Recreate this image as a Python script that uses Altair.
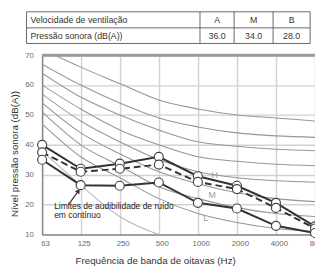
import altair as alt
import pandas as pd

# ---------------- data ----------------
freqs = [63, 125, 250, 500, 1000, 2000, 4000, 8000]
level_A = [40, 32, 33.7, 36, 29.5, 26.3, 20.6, 12.7]
level_M = [37.5, 31, 32, 33.4, 27.6, 25.2, 18.9, 12]
level_B = [35, 26.5, 26.3, 27.4, 20.6, 18.7, 12.9, 10.5]

nc_names = ["NC-15", "NC-20", "NC-25", "NC-30", "NC-35", "NC-40", "NC-45", "NC-50"]
nc_values = [
    [47, 36, 29, 22, 17, 14, 12, 11],
    [51, 40, 33, 26, 22, 19, 17, 16],
    [54, 44, 37, 31, 27, 24, 22, 21],
    [57, 48, 41, 35, 31, 29, 28, 27.5],
    [60, 52, 45, 40, 36, 34.5, 33.5, 33],
    [64, 56, 50, 45, 41, 39.5, 38.5, 38],
    [67, 60, 54, 49, 46, 44, 43, 42.5],
    [72, 66, 60.5, 55, 52, 50, 49, 48],
]
threshold_freqs = [63, 125, 250, 500, 1000]
threshold_values = [38, 26.5, 16, 10, 7]

curve_labels = ["H", "M", "L"]
curve_label_freq = [1350, 1290, 1150]
curve_label_db = [30, 23.2, 15.4]

note_lines = ["Limites de audibilidade de ruído", "em contínuo"]
note_freq = 78
note_db = [19.6, 16.4]
arrow_start = (100, 19.8)
arrow_end = (120, 24.6)

table_header = ["Velocidade de ventilação", "A", "M", "B"]
table_row = ["Pressão sonora (dB(A))", "36.0", "34.0", "28.0"]

# ---------------- layout (pixels, relative to the plot area) ----------------
W, H = 280, 184
FONT = "Liberation Sans"
col_edges = [-16, 162, 197, 237, 275]
row_edges = [-44.5, -28, -12]

xs = alt.Scale(type="log", domain=[63, 8000], nice=False)
ys = alt.Scale(domain=[10, 70], nice=False, zero=False)

nc_df = pd.DataFrame(
    [{"curve": n, "f": f, "db": v} for n, vals in zip(nc_names, nc_values) for f, v in zip(freqs, vals)]
)
thr_df = pd.DataFrame({"f": threshold_freqs, "db": threshold_values})
data_df = pd.concat([
    pd.DataFrame({"series": "A", "f": freqs, "db": level_A}),
    pd.DataFrame({"series": "M", "f": freqs, "db": level_M}),
    pd.DataFrame({"series": "B", "f": freqs, "db": level_B}),
])

x_axis = alt.Axis(values=freqs, format="d", labelFontSize=8, labelColor="#6a6a6a", labelFont=FONT,
                  labelOverlap=False, labelFlush=False,
                  grid=True, gridColor="#d2d2d2", gridWidth=1.5, domainColor="#8a8a8a", domainWidth=1.5,
                  ticks=False, labelPadding=5, labelOffset=3,
                  title="Frequência de banda de oitavas (Hz)", titleFont=FONT, titleFontSize=10,
                  titleFontWeight="normal", titleColor="#333", titleX=116, titleY=30,
                  titleBaseline="alphabetic")
y_axis = alt.Axis(values=[10, 20, 30, 40, 50, 60, 70], labelFontSize=8, labelColor="#6a6a6a", labelFont=FONT,
                  labelOverlap=False, labelFlush=False,
                  grid=True, gridColor="#d2d2d2", gridWidth=1.5, domainColor="#8a8a8a", domainWidth=1.5,
                  ticks=False, labelPadding=9,
                  title="Nível pressão sonora (dB(A))", titleFont=FONT, titleFontSize=10,
                  titleFontWeight="normal", titleColor="#333", titleX=-28, titleY=101,
                  titleBaseline="middle")

X = lambda field: alt.X(field, scale=xs, axis=x_axis)
Y = lambda field: alt.Y(field, scale=ys, axis=y_axis)

nc_lines = alt.Chart(nc_df).mark_line(color="#969696", strokeWidth=1.1, interpolate="monotone", clip=True).encode(
    x=X("f:Q"), y=Y("db:Q"), detail="curve:N"
)
thr_line = alt.Chart(thr_df).mark_line(color="#b8b8b8", strokeWidth=1.1, interpolate="monotone", clip=True).encode(
    x=X("f:Q"), y=Y("db:Q")
)
top_border = alt.Chart(pd.DataFrame({"db": [70]})).mark_rule(color="#9a9a9a", strokeWidth=3).encode(
    y=Y("db:Q")
)
solid = alt.Chart(data_df[data_df.series != "M"]).mark_line(color="#333", strokeWidth=2).encode(
    x=X("f:Q"), y=Y("db:Q"), detail="series:N"
)
dashed = alt.Chart(data_df[data_df.series == "M"]).mark_line(color="#333", strokeWidth=2, strokeDash=[7, 4]).encode(
    x=X("f:Q"), y=Y("db:Q")
)
markers = alt.Chart(data_df).mark_point(shape="circle", filled=True, fill="white", stroke="#444",
                                        strokeWidth=1.2, size=85, opacity=1).encode(
    x=X("f:Q"), y=Y("db:Q")
)
lbl_df = pd.DataFrame({"t": curve_labels, "f": curve_label_freq, "db": curve_label_db})
curve_text = alt.Chart(lbl_df).mark_text(font=FONT, fontSize=9, color="#9a9a9a").encode(
    x=X("f:Q"), y=Y("db:Q"), text="t:N"
)
note_df = pd.DataFrame({"t": note_lines, "f": [note_freq] * 2, "db": note_db})
note_text = alt.Chart(note_df).mark_text(font=FONT, fontSize=8.7, color="#222", align="left").encode(
    x=X("f:Q"), y=Y("db:Q"), text="t:N"
)
arrow_df = pd.DataFrame({"f": [arrow_start[0]], "db": [arrow_start[1]], "f2": [arrow_end[0]], "db2": [arrow_end[1]]})
arrow_line = alt.Chart(arrow_df).mark_rule(color="#333", strokeWidth=1.2).encode(
    x=X("f:Q"), y=Y("db:Q"), x2="f2:Q", y2="db2:Q"
)
arrow_head = alt.Chart(arrow_df).mark_point(shape="triangle-up", filled=True, color="#333", size=30, angle=34,
                                            opacity=1).encode(
    x=X("f2:Q"), y=Y("db2:Q")
)

layers = [nc_lines, thr_line, top_border, solid, dashed, markers, curve_text, note_text, arrow_line, arrow_head]

# ---------------- table (pixel layout, text from the arrays) ----------------
one = pd.DataFrame({"k": [0]})
for yv in row_edges:
    layers.append(alt.Chart(one).mark_rule(color="#555", strokeWidth=0.9).encode(
        x=alt.value(col_edges[0]), x2=alt.value(col_edges[-1]), y=alt.value(yv)))
for xv in col_edges:
    layers.append(alt.Chart(one).mark_rule(color="#555", strokeWidth=0.9).encode(
        x=alt.value(xv), y=alt.value(row_edges[0]), y2=alt.value(row_edges[-1])))
for r, row in enumerate([table_header, table_row]):
    yc = (row_edges[r] + row_edges[r + 1]) / 2
    for c, t in enumerate(row):
        if c == 0:
            xv, al = col_edges[0] + 4, "left"
        else:
            xv, al = (col_edges[c] + col_edges[c + 1]) / 2, "center"
        layers.append(alt.Chart(one).mark_text(font=FONT, fontSize=9, color="#333", align=al,
                                               baseline="middle", text=t).encode(
            x=alt.value(xv), y=alt.value(yc)))

chart = alt.layer(*layers).properties(
    width=W, height=H,
    autosize=alt.AutoSizeParams(type="none"),
    padding={"left": 35, "top": 45, "right": 0, "bottom": 32},
).configure_view(stroke=None).configure_axis(labelOverlap=False)

chart.save("out.html", embed_options={"renderer": "svg", "actions": False})
